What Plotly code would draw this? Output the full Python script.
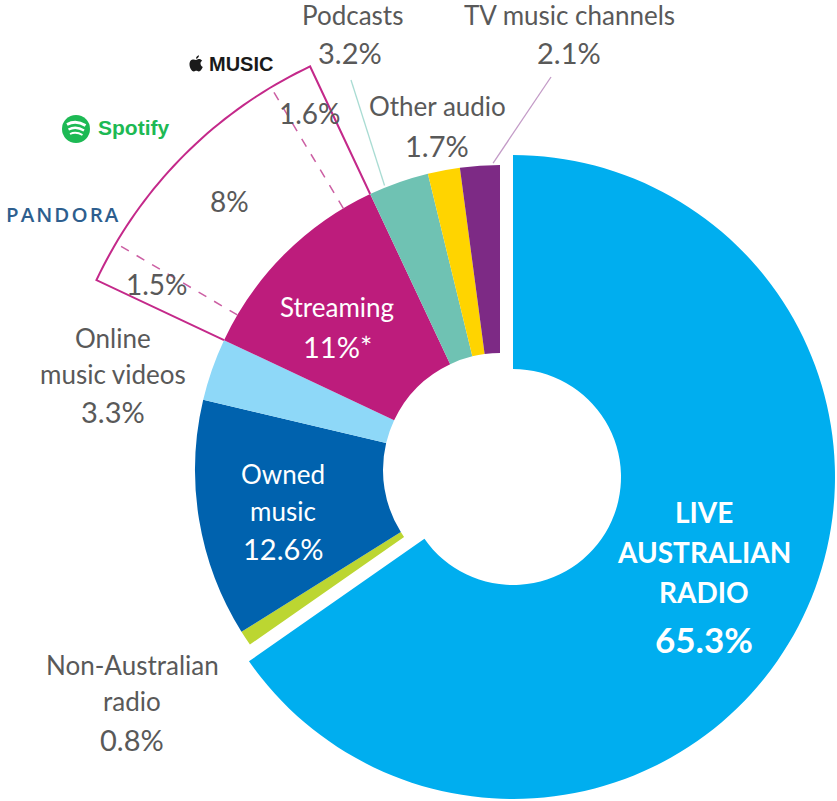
import math
import plotly.graph_objects as go

W, H = 837, 801

# ---- data -------------------------------------------------------------
categories = ["Live Australian radio", "Non-Australian radio", "Owned music",
              "Online music videos", "Streaming", "Podcasts", "Other audio",
              "TV music channels"]
shares = [65.3, 0.8, 12.6, 3.3, 11.0, 3.2, 1.7, 2.1]
colors = ["#00AEEF", "#BCD631", "#0062AE", "#8ED8F8",
          "#BD1C7C", "#6FC2B3", "#FFD400", "#7D2A85"]

streaming_services = ["Pandora", "Spotify", "Apple Music"]
streaming_shares = [1.5, 8.0, 1.6]

# ---- geometry (pixels) -------------------------------------------------
CX, CY, R_OUT, R_IN = 500, 470, 305, 117          # main ring
LX, LY, LR_OUT, LR_IN = 513, 477, 322, 108        # exploded radio slice
R_CALLOUT = 446                                    # streaming breakdown wedge

TXT = "#595959"
FONT = "Lato"


def px(x):
    return x / W


def py(y):
    return 1 - y / H


def polar(cx, cy, r, frac):
    a = 2 * math.pi * frac
    return cx + r * math.sin(a), cy - r * math.cos(a)


def fmt(v):
    return f"{v:g}%"


total = sum(shares)
cum = [sum(shares[:i]) / total for i in range(len(shares) + 1)]

fig = go.Figure()

# main ring, radio slice left empty
fig.add_trace(go.Pie(
    labels=categories, values=shares, sort=False, direction="clockwise",
    rotation=0, hole=R_IN / R_OUT, textinfo="none",
    marker=dict(colors=["rgba(0,0,0,0)"] + colors[1:], line=dict(width=0)),
    domain=dict(x=[px(CX - R_OUT), px(CX + R_OUT)],
                y=[py(CY + R_OUT), py(CY - R_OUT)]),
    hovertemplate="%{label}: %{value}%<extra></extra>",
))

# exploded, larger radio slice
fig.add_trace(go.Pie(
    labels=categories, values=shares, sort=False, direction="clockwise",
    rotation=0, hole=LR_IN / LR_OUT, textinfo="none",
    marker=dict(colors=[colors[0]] + ["rgba(0,0,0,0)"] * (len(shares) - 1),
                line=dict(width=0)),
    domain=dict(x=[px(LX - LR_OUT), px(LX + LR_OUT)],
                y=[py(LY + LR_OUT), py(LY - LR_OUT)]),
    hoverinfo="skip",
))

shapes = []

# ---- streaming breakdown wedge ----------------------------------------
s_idx = categories.index("Streaming")
f0, f1 = cum[s_idx], cum[s_idx + 1]
pts = [polar(CX, CY, R_OUT, f0), polar(CX, CY, R_CALLOUT, f0)]
n = 40
for k in range(1, n + 1):
    pts.append(polar(CX, CY, R_CALLOUT, f0 + (f1 - f0) * k / n))
pts.append(polar(CX, CY, R_OUT, f1))
path = "M " + " L ".join(f"{px(x):.5f} {py(y):.5f}" for x, y in pts)
shapes.append(dict(type="path", path=path, xref="paper", yref="paper",
                   line=dict(color="#C4298A", width=2)))

sub_total = sum(streaming_shares)
sub_edges = [f0 + (f1 - f0) * sum(streaming_shares[:i]) / sub_total
             for i in range(len(streaming_shares) + 1)]
for fe in sub_edges[1:-1]:
    x0, y0 = polar(CX, CY, R_OUT, fe)
    x1, y1 = polar(CX, CY, R_CALLOUT, fe)
    shapes.append(dict(type="line", xref="paper", yref="paper",
                       x0=px(x0), y0=py(y0), x1=px(x1), y1=py(y1),
                       line=dict(color="#CC5FA3", width=1.5, dash="dash")))

annotations = []


def label(x, y, text, size, color=TXT, bold=False, anchor="center", family=FONT,
          weight=None):
    annotations.append(dict(
        x=px(x), y=py(y), xref="paper", yref="paper", text=text,
        showarrow=False, xanchor=anchor, yanchor="middle",
        font=dict(family=family, size=size, color=color,
                  weight=weight or ("bold" if bold else "normal"))))


# share labels inside each sub-sector: (radius, position along the sub-sector)
sub_label_pos = [(390, 0.6), (381, 0.5), (405, 0.5)]
for v, (r, t), a, b in zip(streaming_shares, sub_label_pos, sub_edges[:-1], sub_edges[1:]):
    x, y = polar(CX, CY, r, a + t * (b - a))
    label(x, y, fmt(v), 28)

# ---- leader lines ------------------------------------------------------
def leader(cat, x_lab, y_lab, t, color):
    i = categories.index(cat)
    x, y = polar(CX, CY, R_OUT + 2, cum[i] + t * (cum[i + 1] - cum[i]))
    shapes.append(dict(type="line", xref="paper", yref="paper",
                       x0=px(x_lab), y0=py(y_lab), x1=px(x), y1=py(y),
                       line=dict(color=color, width=1.3)))


leader("Podcasts", 351, 80, 0.27, "#A9DCD3")
leader("TV music channels", 551, 77, 0.83, "#C39BC7")

# ---- slice labels ------------------------------------------------------
NAME, PCT = 26, 29
v = dict(zip(categories, shares))

label(352, 15, "Podcasts", NAME)
label(350, 53, fmt(v["Podcasts"]), PCT)
label(569, 15, "TV music channels", NAME)
label(569, 53, fmt(v["TV music channels"]), PCT)
label(437, 106, "Other audio", NAME)
label(437, 145, fmt(v["Other audio"]), PCT)
label(113, 338, "Online", NAME)
label(113, 374, "music videos", NAME)
label(113, 411, fmt(v["Online music videos"]), PCT)
label(132, 665, "Non-Australian", NAME)
label(132, 701, "radio", NAME)
label(132, 739, fmt(v["Non-Australian radio"]), PCT)

label(283, 474, "Owned", NAME, "white")
label(283, 511, "music", NAME, "white")
label(283, 548, fmt(v["Owned music"]), PCT, "white")
label(337, 307, "Streaming", NAME, "white")
label(337, 347, fmt(v["Streaming"]) + "*", PCT, "white")

label(704, 512, "LIVE", 28, "white", True)
label(704, 552, "AUSTRALIAN", 28, "white", True)
label(704, 592, "RADIO", 28, "white", True)
label(704, 639, fmt(v["Live Australian radio"]), 35, "white", True)

# ---- service marks -----------------------------------------------------
ox, oy = 189, 55
apple_body = [(7, 5), (5, 4), (0.5, 3.5), (0.5, 9.5), (0.5, 13), (3, 16.5), (4.8, 16.5),
              (6, 16.5), (6.3, 15.8), (7.3, 15.8), (8.3, 15.8), (8.6, 16.5), (9.8, 16.5),
              (11.6, 16.5), (13.2, 13.5), (13.8, 12), (12, 11.2), (11.5, 9.5), (11.5, 8.6),
              (11.5, 7.2), (12.3, 6.3), (13.2, 5.8), (12.2, 4.4), (10.8, 4), (9.6, 4),
              (8.6, 4), (7.8, 5), (7, 5)]
apple_leaf = [(7, 3.8), (6.9, 2), (8.3, 0.5), (10, 0.3), (10.1, 2), (8.7, 3.7), (7, 3.8)]


def bezier_path(p):
    def c(q):
        return f"{px(ox + q[0]):.5f} {py(oy + q[1]):.5f}"
    s = "M " + c(p[0])
    for k in range(1, len(p), 3):
        s += " C " + ", ".join(c(q) for q in p[k:k + 3])
    return s + " Z"


for part in (apple_body, apple_leaf):
    shapes.append(dict(type="path", path=bezier_path(part), xref="paper", yref="paper",
                       fillcolor="#1A1A1A", line=dict(width=0)))
label(207, 64, "MUSIC", 20, "#1A1A1A", True, "left", "Liberation Sans")

# Spotify roundel
sx, sy, sr = 76, 129, 14
shapes.append(dict(type="circle", xref="paper", yref="paper",
                   x0=px(sx - sr), x1=px(sx + sr), y0=py(sy + sr), y1=py(sy - sr),
                   fillcolor="#1DB954", line=dict(width=0)))
for (ax0, ay0, qx, qy, ax1, ay1, w) in [(67, 124.5, 76, 119.5, 85.5, 125.5, 2.8),
                                         (68.5, 129.5, 76, 125.5, 84, 130.5, 2.3),
                                         (70, 134, 76, 131, 82.5, 135, 1.9)]:
    shapes.append(dict(type="path", xref="paper", yref="paper",
                       path=f"M {px(ax0):.5f} {py(ay0):.5f} Q {px(qx):.5f} {py(qy):.5f} "
                            f"{px(ax1):.5f} {py(ay1):.5f}",
                       line=dict(color="white", width=w)))
label(96, 128, "Spotify", 21, "#1DB954", True, "left", "Liberation Sans")

label(4, 214, "\u200a".join("PANDORA"), 20.5, "#2D5E8E", False, "left", "Open Sans",
      weight=600)

fig.update_layout(
    width=W, height=H, margin=dict(l=0, r=0, t=0, b=0),
    paper_bgcolor="white", plot_bgcolor="white", showlegend=False,
    shapes=shapes, annotations=annotations,
)

fig.write_html("out.html")
